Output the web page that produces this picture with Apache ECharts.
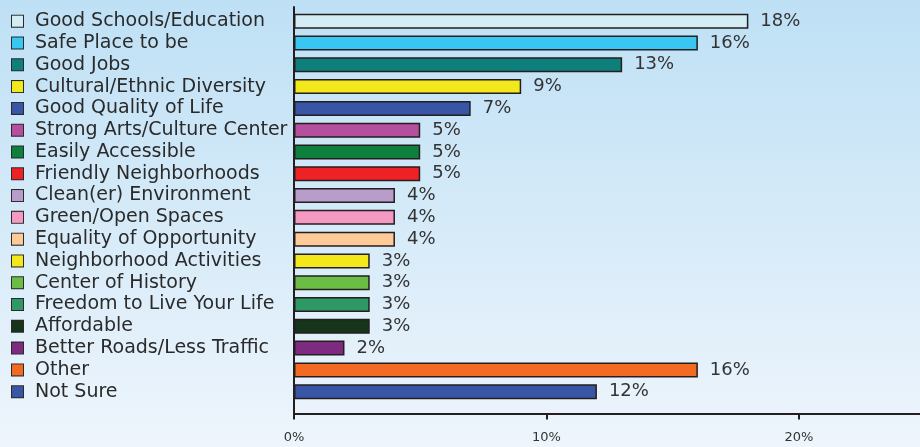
<!DOCTYPE html>
<html><head><meta charset="utf-8">
<script src="https://cdn.jsdelivr.net/npm/echarts@6/dist/echarts.min.js"></script>
<style>html,body{margin:0;padding:0;}#c{width:920px;height:447px;}</style>
</head><body><div id="c"></div>
<script>
const categories = ["Good Schools/Education","Safe Place to be","Good Jobs","Cultural/Ethnic Diversity","Good Quality of Life","Strong Arts/Culture Center","Easily Accessible","Friendly Neighborhoods","Clean(er) Environment","Green/Open Spaces","Equality of Opportunity","Neighborhood Activities","Center of History","Freedom to Live Your Life","Affordable","Better Roads/Less Traffic","Other","Not Sure"];
const values = [18,16,13,9,7,5,5,5,4,4,4,3,3,3,3,2,16,12];
const colors = ["#d4edf5","#38c6f2","#0e7f7b","#f3e81c","#3955a5","#b4509e","#0f7f3e","#ee2225","#b89cc9","#f49ac2","#fdca98","#f3e81c","#6cbd45","#2f9965","#17351b","#7d2a80","#f36a22","#3955a5"];
const xTicks = [0,10,20];
const FONT = "DejaVu Sans";
const rich = {t:{fontFamily:FONT,fontSize:19,color:"#2a2a2a",padding:[0,0,0,12]}};
colors.forEach((c,i)=>{rich['s'+i]={width:11,height:11,backgroundColor:c,borderColor:"#2a2a2a",borderWidth:1};});
const chart = echarts.init(document.getElementById('c'));
chart.setOption({
  backgroundColor:{type:'linear',x:0,y:0,x2:0,y2:1,colorStops:[{offset:0,color:'#bee0f5'},{offset:1,color:'#eef5fc'}]},
  animation:false,
  grid:[
    {left:294,right:0,top:10.3,bottom:44.4,containLabel:false},
    {left:294,right:0,top:7,bottom:33.5,containLabel:false}
  ],
  xAxis:[
    {gridIndex:0,type:'value',min:0,max:24.8,show:false},
    {gridIndex:1,type:'value',min:0,max:24.8,interval:10,
     axisLine:{show:true,lineStyle:{color:'#231f20',width:2}},
     axisTick:{show:true,length:6,customValues:xTicks,lineStyle:{color:'#231f20',width:2}},
     axisLabel:{margin:18,customValues:xTicks,fontFamily:FONT,fontSize:13,color:'#333',formatter:v=>v+'%'},
     splitLine:{show:false}}
  ],
  yAxis:[
    {gridIndex:0,type:'category',inverse:true,data:categories,
     axisLine:{show:false},axisTick:{show:false},
     axisLabel:{align:'left',margin:282,formatter:(v,i)=>'{s'+i+'|}{t|'+v+'}',rich:rich}},
    {gridIndex:1,type:'category',data:[''],axisLine:{show:true,lineStyle:{color:'#231f20',width:2}},axisTick:{show:false},axisLabel:{show:false}}
  ],
  series:[{
    type:'bar',xAxisIndex:0,yAxisIndex:0,barWidth:15,
    data:values.map((v,i)=>({value:v,itemStyle:{color:colors[i]}})),
    itemStyle:{borderColor:'#231f20',borderWidth:1.5},
    label:{show:true,position:'right',distance:12,formatter:'{c}%',fontFamily:FONT,fontSize:18,color:'#333'}
  }]
});
</script></body></html>
